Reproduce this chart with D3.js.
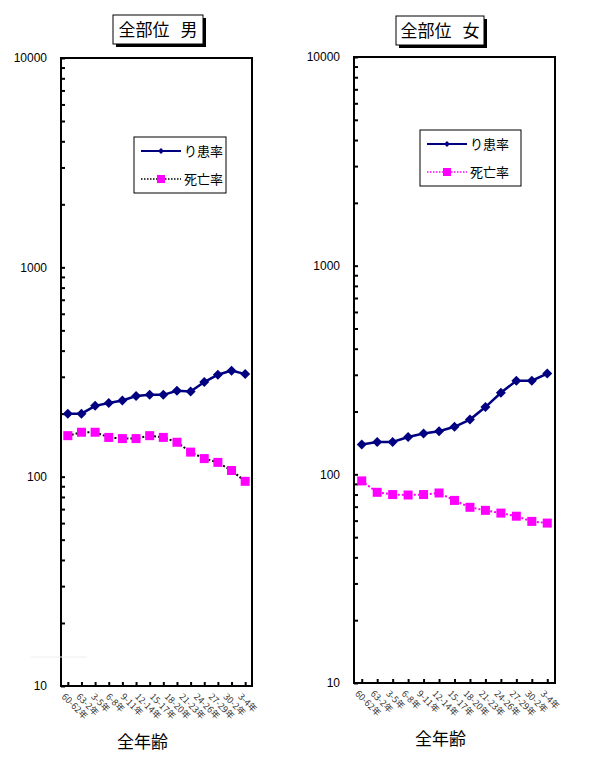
<!DOCTYPE html>
<html>
<head>
<meta charset="utf-8">
<script src="https://cdn.jsdelivr.net/npm/d3@7"></script>
<style>
  body { margin: 0; background: #fff; }
  svg { display: block; }
</style>
</head>
<body>
<svg id="chart" width="593" height="770"></svg>
<script>
// period labels (shared by both panels)
const periodLabels = ['60-62年', '63-2年', '3-5年', '6-8年', '9-11年', '12-14年', '15-17年',
  '18-20年', '21-23年', '24-26年', '27-29年', '30-2年', '3-4年'];

// male series (14 points as drawn)
const maleIncidence = [200, 200, 218, 225, 231, 243, 246, 246, 257, 255, 283, 307, 321, 309];
const maleMortality = [157, 163, 163, 154, 152, 152, 157, 154, 146, 131, 122, 117, 107, 95];

// female series
const femaleIncidence = [139, 143, 143, 151, 157, 161, 169, 183, 210, 246, 281, 281, 304];
const femaleMortality = [93, 82, 80, 79.6, 80, 81.4, 75, 69.5, 67.2, 65.2, 63, 59.5, 58.4];

const yTicksMajor = [10, 100, 1000, 10000];

const svg = d3.select('#chart');

const panels = [
  { title: '全部位 男', inc: maleIncidence, mort: maleMortality,
    left: 61, right: 252, top: 58, bottom: 686, mortLine: '#000',
    titleBox: [113, 15, 90, 29], legend: [134, 137, 92, 56] },
  { title: '全部位 女', inc: femaleIncidence, mort: femaleMortality,
    left: 354, right: 555, top: 57, bottom: 683, mortLine: '#ff00ff',
    titleBox: [396, 16, 88, 29], legend: [420, 130, 101, 56] },
];

// every log tick from 10 to 10000
const allTicks = [];
for (let d = 10; d < 10000; d *= 10) {
  for (let k = 1; k < 10; k++) allTicks.push(d * k);
}
allTicks.push(10000);

function drawPanel(p) {
  const g = svg.append('g');
  const idx = d3.range(p.inc.length);

  const x = d3.scalePoint().domain(idx).range([p.left, p.right]).padding(0.5);
  const xLab = d3.scalePoint().domain(periodLabels).range([p.left, p.right]).padding(0.5);
  const y = d3.scaleLog().domain([10, 10000]).range([p.bottom, p.top]);

  // y axis, ticks inside
  const yAxis = g.append('g')
    .attr('transform', `translate(${p.left},0)`)
    .call(d3.axisLeft(y).tickValues(allTicks).tickSize(-4).tickPadding(14)
      .tickFormat((d) => yTicksMajor.includes(d) ? String(d) : ''));
  yAxis.select('.domain').remove();
  yAxis.selectAll('line').attr('stroke', '#000').attr('stroke-width', 2);
  yAxis.selectAll('text').attr('font-family', 'Liberation Sans, Arial, sans-serif')
    .attr('font-size', 12).attr('fill', '#000');

  // x ticks, inside
  const xAxis = g.append('g')
    .attr('transform', `translate(0,${p.bottom})`)
    .call(d3.axisBottom(x).tickSize(-4).tickFormat(''));
  xAxis.select('.domain').remove();
  xAxis.selectAll('line').attr('stroke', '#000').attr('stroke-width', 2);

  // x labels, rotated
  g.append('g').selectAll('text')
    .data(periodLabels)
    .join('text')
    .attr('transform', (d) => `translate(${xLab(d) - 5},${p.bottom + 9}) rotate(45)`)
    .attr('dy', '0.35em')
    .attr('font-family', 'Noto Sans CJK JP, sans-serif')
    .attr('font-size', 9)
    .attr('fill', '#333')
    .text((d) => d);

  // frame
  g.append('rect')
    .attr('x', p.left).attr('y', p.top)
    .attr('width', p.right - p.left).attr('height', p.bottom - p.top)
    .attr('fill', 'none').attr('stroke', '#000').attr('stroke-width', 2);

  // mortality
  g.append('path')
    .datum(p.mort)
    .attr('fill', 'none')
    .attr('stroke', p.mortLine)
    .attr('stroke-width', 2)
    .attr('stroke-dasharray', '2,2')
    .attr('d', d3.line().x((d, i) => x(i)).y((d) => y(d)));
  g.append('g').selectAll('rect')
    .data(p.mort)
    .join('rect')
    .attr('x', (d, i) => x(i) - 4.5)
    .attr('y', (d) => y(d) - 4.5)
    .attr('width', 9).attr('height', 9)
    .attr('fill', '#ff00ff');

  // incidence
  g.append('path')
    .datum(p.inc)
    .attr('fill', 'none')
    .attr('stroke', '#000080')
    .attr('stroke-width', 2.5)
    .attr('d', d3.line().x((d, i) => x(i)).y((d) => y(d)));
  g.append('g').selectAll('path')
    .data(p.inc)
    .join('path')
    .attr('transform', (d, i) => `translate(${x(i)},${y(d)})`)
    .attr('d', 'M0,-5L5,0L0,5L-5,0Z')
    .attr('fill', '#000080');

  // title box with shadow
  const [tx, ty, tw, th] = p.titleBox;
  g.append('rect').attr('x', tx + 3).attr('y', ty + 3).attr('width', tw).attr('height', th).attr('fill', '#000');
  g.append('rect').attr('x', tx).attr('y', ty).attr('width', tw).attr('height', th)
    .attr('fill', '#fff').attr('stroke', '#000').attr('stroke-width', 1);
  g.append('text')
    .attr('x', tx + tw / 2).attr('y', ty + th / 2)
    .attr('dy', '0.36em')
    .attr('text-anchor', 'middle')
    .attr('font-family', 'Noto Sans CJK JP, sans-serif')
    .attr('font-size', 17)
    .attr('word-spacing', 7)
    .text(p.title);

  // legend
  const [lx, ly, lw, lh] = p.legend;
  const lg = g.append('g').attr('transform', `translate(${lx},${ly})`);
  lg.append('rect').attr('width', lw).attr('height', lh)
    .attr('fill', '#fff').attr('stroke', '#000').attr('stroke-width', 1);
  const r1 = lh * 0.25, r2 = lh * 0.75;
  lg.append('line').attr('x1', 7).attr('x2', 47).attr('y1', r1).attr('y2', r1)
    .attr('stroke', '#000080').attr('stroke-width', 2);
  lg.append('path').attr('transform', `translate(27,${r1})`).attr('d', 'M0,-3L3,0L0,3L-3,0Z').attr('fill', '#000080');
  lg.append('line').attr('x1', 7).attr('x2', 47).attr('y1', r2).attr('y2', r2)
    .attr('stroke', p.mortLine).attr('stroke-width', 1.5).attr('stroke-dasharray', '1.5,1.5');
  lg.append('rect').attr('x', 23).attr('y', r2 - 4).attr('width', 8).attr('height', 8).attr('fill', '#ff00ff');
  lg.selectAll('text.lab')
    .data(['り患率', '死亡率'])
    .join('text')
    .attr('class', 'lab')
    .attr('x', 50)
    .attr('y', (d, i) => i === 0 ? r1 : r2)
    .attr('dy', '0.36em')
    .attr('font-family', 'Noto Sans CJK JP, sans-serif')
    .attr('font-size', 13)
    .text((d) => d);

  // axis title
  g.append('text')
    .attr('x', (p.left + p.right) / 2 - 14)
    .attr('y', p.bottom + 56)
    .attr('dy', '0.36em')
    .attr('text-anchor', 'middle')
    .attr('font-family', 'Noto Sans CJK JP, sans-serif')
    .attr('font-size', 17)
    .text('全年齢');
}

panels.forEach(drawPanel);

// faint stray line seen in the reference
svg.append('line').attr('x1', 31).attr('x2', 87).attr('y1', 657).attr('y2', 657)
  .attr('stroke', '#eee').attr('stroke-width', 1);
</script>
</body>
</html>
